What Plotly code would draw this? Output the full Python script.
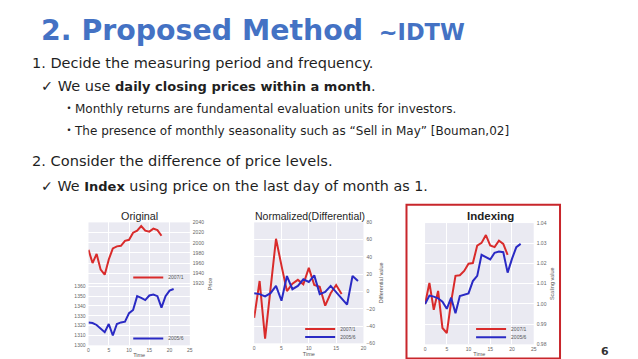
import plotly.graph_objects as go

W, H = 638, 359

# ---------------- data ----------------
orig_red_t = list(range(19))
orig_red = [1986, 1960, 1978, 1947, 1937, 1967, 1989, 1993, 1994, 2004, 2006,
            2020, 2024, 2033, 2024, 2022, 2028, 2025, 2014]
orig_blue_t = list(range(22))
orig_blue = [1323.3, 1322.7, 1320.7, 1317.3, 1313.3, 1321.7, 1310.0, 1321.7, 1323.3,
             1324.0, 1332.7, 1336.0, 1350.0, 1348.3, 1346.0, 1350.7, 1351.7, 1350.0,
             1338.3, 1350.0, 1355.7, 1357.3]

diff_red_t = list(range(17))
diff_red = [-30.5, 12.2, -54.5, 3.0, 61.0, 30.0, 0.5, 9.0, 13.5, 8.4, 27.4, 7.5,
            5.5, -16.4, -2.0, 7.5, -3.0]
diff_blue_t = list(range(20))
diff_blue = [-1.9, -3.0, -5.7, -1.9, 6.5, -10.7, 17.9, 2.7, 6.5, 14.1, 11.0, 18.7,
             -3.0, -0.4, 6.5, -0.4, -8.0, -15.2, 17.9, 12.2]

idx_red_t = list(range(20))
idx_red = [1.0000, 1.0104, 0.9971, 1.0064, 0.9881, 0.9856, 1.0011, 1.0139, 1.0142,
           1.0163, 1.0199, 1.0202, 1.0289, 1.0302, 1.0341, 1.0289, 1.0281, 1.0313,
           1.0297, 1.0243]
idx_blue_t = list(range(23))
idx_blue = [1.0000, 1.0041, 1.0036, 1.0028, 1.0011, 0.9976, 1.0031, 0.9954, 1.0039,
            1.0047, 1.0052, 1.0113, 1.0139, 1.0243, 1.0232, 1.0220, 1.0253, 1.0259,
            1.0256, 1.0155, 1.0223, 1.0281, 1.0297]

series_names = ["2007/1", "2005/6"]
chart_titles = ["Original", "Normalized(Differential)", "<b>Indexing</b>"]
time_ticks = [0, 5, 10, 15, 20, 25]
orig_left_ticks = [1300, 1310, 1320, 1330, 1340, 1350, 1360]
orig_right_ticks = [1920, 1940, 1960, 1980, 2000, 2020, 2040]
diff_ticks = [-60, -40, -20, 0, 20, 40, 60, 80]
idx_ticks = [0.98, 0.99, 1.00, 1.01, 1.02, 1.03, 1.04]

RED = "#D92B2B"
BLUE = "#2A2AC4"
BG = "#EAEAF2"


def px(x):
    return x / W


def py(y):
    return 1 - y / H


fig = go.Figure()


def line(x, y, name, color, xa, ya, leg):
    fig.add_trace(go.Scatter(x=x, y=y, mode="lines", name=name,
                             line=dict(color=color, width=2), xaxis=xa, yaxis=ya, legend=leg))


line(orig_red_t, orig_red, series_names[0], RED, "x", "y2", "legend")
line(orig_blue_t, orig_blue, series_names[1], BLUE, "x", "y", "legend2")
line(diff_red_t, diff_red, series_names[0], RED, "x2", "y3", "legend3")
line(diff_blue_t, diff_blue, series_names[1], BLUE, "x2", "y3", "legend4")
line(idx_red_t, idx_red, series_names[0], RED, "x3", "y4", "legend5")
line(idx_blue_t, idx_blue, series_names[1], BLUE, "x3", "y4", "legend6")

tickfont = dict(family="Liberation Sans", size=5, color="#666")
titlefont = dict(family="Liberation Sans", size=5.5, color="#555")

common_x = dict(showline=False, zeroline=False, ticks="", gridcolor="white", gridwidth=1,
                tickfont=tickfont, fixedrange=True, ticklabelstandoff=1)
common_y = dict(showline=False, zeroline=False, ticks="", gridcolor="white", gridwidth=1,
                tickfont=tickfont, fixedrange=True, ticklabelstandoff=2)

fig.update_layout(
    width=W, height=H, autosize=False,
    margin=dict(l=0, r=0, t=0, b=0),
    paper_bgcolor="white", plot_bgcolor=BG,
    xaxis=dict(domain=[px(80), px(182)], range=[0, 25], tickvals=time_ticks, anchor="y",
               title=dict(text="Time", font=titlefont, standoff=0), **common_x),
    yaxis=dict(domain=[py(340), py(215)], range=[1300, 1425], tickvals=orig_left_ticks,
               anchor="x", side="left", **common_y),
    yaxis2=dict(range=[1797.5, 2040.3], tickvals=orig_right_ticks, overlaying="y",
                anchor="x", side="right",
                title=dict(text="Price", font=titlefont, standoff=4), **common_y),
    xaxis2=dict(domain=[px(246.7), px(356.7)], range=[0, 20], tickvals=time_ticks[:5],
                anchor="y3", title=dict(text="Time", font=titlefont, standoff=0), **common_x),
    yaxis3=dict(domain=[py(338), py(215)], range=[-60, 80], tickvals=diff_ticks,
                anchor="x2", side="right",
                title=dict(text="Differential value", font=titlefont, standoff=4), **common_y),
    xaxis3=dict(domain=[px(418.7), px(528)], range=[0, 25], tickvals=time_ticks,
                anchor="y4", title=dict(text="Time", font=titlefont, standoff=0), **common_x),
    yaxis4=dict(domain=[py(339), py(215.7)], range=[0.98, 1.04], tickvals=idx_ticks,
                tickformat=".2f", anchor="x3", side="right",
                title=dict(text="Scaling value", font=titlefont, standoff=4), **common_y),
    showlegend=True,
)

legfont = dict(family="Liberation Sans", size=5, color="#555")
leg_common = dict(bgcolor="rgba(0,0,0,0)", font=legfont, xanchor="left", yanchor="middle",
                  itemwidth=30, tracegroupgap=0)
fig.update_layout(
    legend=dict(x=px(120), y=py(271), **leg_common),
    legend2=dict(x=px(120), y=py(333), **leg_common),
    legend3=dict(x=px(293), y=py(323.5), **leg_common),
    legend4=dict(x=px(293), y=py(331.5), **leg_common),
    legend5=dict(x=px(465), y=py(323.3), **leg_common),
    legend6=dict(x=px(465), y=py(331.7), **leg_common),
)

# ---------------- slide decoration ----------------
shapes = [
    dict(type="rect", xref="paper", yref="paper", x0=px(628), x1=1, y0=py(46), y1=1,
         fillcolor="#E8434C", line=dict(width=0), layer="above"),
    dict(type="rect", xref="paper", yref="paper", x0=px(628), x1=1, y0=0, y1=py(46),
         fillcolor="#2E2B50", line=dict(width=0), layer="above"),
    dict(type="rect", xref="paper", yref="paper", x0=px(400), x1=px(554.5), y0=py(353.5),
         y1=py(197), fillcolor="rgba(0,0,0,0)", line=dict(color="#C8262B", width=2),
         layer="above"),
]
fig.update_layout(shapes=shapes)

body = "DejaVu Sans, Noto Sans CJK JP"
ann = []


def text(x, y, s, size, color="#1f1f1f", family=body, xanchor="left"):
    ann.append(dict(xref="paper", yref="paper", x=px(x), y=py(y), text=s, showarrow=False,
                    xanchor=xanchor, yanchor="middle", font=dict(family=family, size=size, color=color)))


text(30, 20, "<b>2. Proposed Method<span style='font-size:22.5px'>&nbsp;&nbsp;~IDTW</span></b>", 28.4,
     color="#4472C4")
text(21, 53, "1. Decide the measuring period and frequency.", 14.5)
text(30, 76, "✓ We use <b><span style='font-size:13px'>daily closing prices within a month</span></b>.", 14.5)
text(52, 100, "・Monthly returns are fundamental evaluation units for investors.", 12)
text(52, 122, "・The presence of monthly seasonality such as “Sell in May” [Bouman,02]", 12)
text(21, 152, "2. Consider the difference of price levels.", 14.6)
text(30, 178, "✓ We <b><span style='font-size:13px'>Index</span></b> using price on the last day of month as 1.", 14.3)
text(131.5, 208, chart_titles[0], 10.8, family="Liberation Sans", xanchor="center")
text(302.5, 208, chart_titles[1], 10.5, family="Liberation Sans", xanchor="center")
text(485, 208, chart_titles[2], 11.5, family="Liberation Sans", xanchor="center")
text(599.5, 346, "<b>6</b>", 11, color="#333", xanchor="center")
fig.update_layout(annotations=ann)

fig.write_html("out.html")
